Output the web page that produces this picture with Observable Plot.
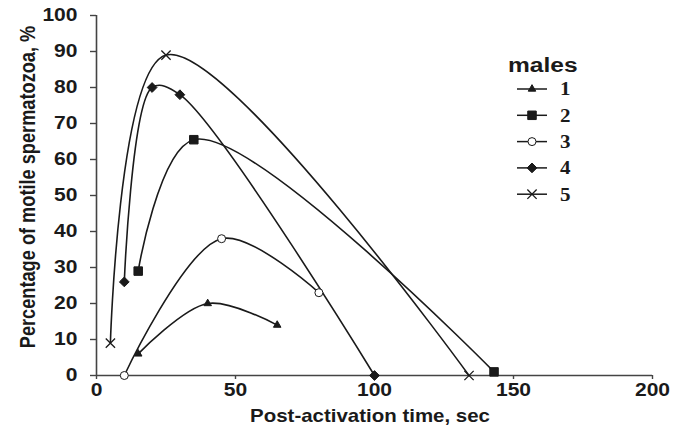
<!DOCTYPE html>
<html><head><meta charset="utf-8">
<script src="https://cdn.jsdelivr.net/npm/d3@7"></script>
<script src="https://cdn.jsdelivr.net/npm/@observablehq/plot@0.6"></script>
<style>body{margin:0;background:#fff}#chart{width:683px;height:436px}</style>
</head><body><div id="chart"></div>
<script>
// ---- data ----
const seriesNames = ["1", "2", "3", "4", "5"];
const times1 = [15, 40, 65];        const values1 = [6, 20, 14];
const times2 = [15, 35, 143];       const values2 = [29, 65.5, 1];
const times3 = [10, 45, 80];        const values3 = [0, 38, 23];
const times4 = [10, 20, 30, 100];   const values4 = [26, 80, 78, 0];
const times5 = [5, 25, 134];        const values5 = [9, 89, 0];
const xTicks = [0, 50, 100, 150, 200];
const yTicks = [0, 10, 20, 30, 40, 50, 60, 70, 80, 90, 100];
const xTitle = "Post-activation time, sec";
const yTitle = "Percentage of motile spermatozoa, %";
const legendTitle = "males";

// ---- styles ----
const symbolsBySeries = ["triangle", "square", "circle", "diamond2", "times"];
const radiusBySeries = [2.8, 4.8, 4, 4.4, 4.3];
const openBySeries = [false, false, true, false, false];
const ink = "#1a1a1a";
const STRETCH = 1.17;

const allTimes = [times1, times2, times3, times4, times5];
const allValues = [values1, values2, values3, values4, values5];
const data = seriesNames.flatMap((s, i) =>
  allTimes[i].map((t, j) => ({series: s, time: t, pct: allValues[i][j]})));

const dotMarks = seriesNames.map((s, i) =>
  Plot.dot(data.filter(d => d.series === s), {
    x: "time", y: "pct",
    symbol: symbolsBySeries[i], r: radiusBySeries[i],
    fill: symbolsBySeries[i] === "times" ? "none" : (openBySeries[i] ? "white" : ink),
    stroke: ink, strokeWidth: symbolsBySeries[i] === "times" ? 1.3 : 1
  }));

const svg = Plot.plot({
  width: 683, height: 436,
  marginLeft: 96, marginRight: 31, marginTop: 15, marginBottom: 61,
  x: {domain: [0, 200]},
  y: {domain: [0, 100]},
  style: {fontFamily: "'Liberation Sans', Arial, sans-serif", fontSize: "18px", fontWeight: "bold", color: ink, background: "white"},
  marks: [
    Plot.ruleY([0], {stroke: "#444", strokeWidth: 1.6}),
    Plot.ruleX([0], {stroke: "#444", strokeWidth: 1.6}),
    Plot.axisX({ticks: xTicks, tickSize: 4, tickPadding: 4, label: null, stroke: "#444", strokeWidth: 1.4}),
    Plot.axisY({ticks: yTicks, tickSize: 6, tickPadding: 13, label: null, stroke: "#444", strokeWidth: 1.4}),
    Plot.line(data, {x: "time", y: "pct", z: "series", curve: "catmull-rom", stroke: ink, strokeWidth: 1.6}),
    ...dotMarks
  ]
});
document.getElementById("chart").appendChild(svg);

const sel = d3.select(svg);
// axis titles
sel.append("text").attr("transform", "translate(370,416)")
  .attr("text-anchor", "middle").attr("dy", "0.35em").attr("font-size", 17.5).text(xTitle);
sel.append("text").attr("transform", "translate(28,187) rotate(-90)")
  .attr("text-anchor", "middle").attr("dy", "0.35em").attr("font-size", 18.2).text(yTitle);

// legend
const lg = sel.append("g").attr("text-anchor", "start");
lg.append("text").attr("transform", "translate(508,72)").attr("font-size", 21)
  .attr("text-anchor", "start").attr("font-weight", "bold").text(legendTitle);
seriesNames.forEach((s, i) => {
  const y = 89 + i * 26.3;
  lg.append("line").attr("x1", 517).attr("x2", 547).attr("y1", y).attr("y2", y)
    .attr("stroke", ink).attr("stroke-width", 1.5);
  const typeMap = {triangle: d3.symbolTriangle, square: d3.symbolSquare, circle: d3.symbolCircle, diamond2: d3.symbolDiamond2, times: d3.symbolTimes};
  const r = radiusBySeries[i];
  const isTimes = symbolsBySeries[i] === "times";
  lg.append("path").attr("transform", `translate(532,${y})`)
    .attr("d", d3.symbol(typeMap[symbolsBySeries[i]], Math.PI * r * r)())
    .attr("fill", isTimes ? "none" : (openBySeries[i] ? "white" : ink))
    .attr("stroke", ink).attr("stroke-width", isTimes ? 1.3 : 1);
  lg.append("text").attr("transform", `translate(560,${y})`).attr("dy", "0.36em")
    .attr("text-anchor", "start")
    .attr("font-family", "'Liberation Serif', 'Times New Roman', serif")
    .attr("font-size", 18).attr("font-weight", "bold").text(s);
});

// the reference's lettering is horizontally stretched
sel.selectAll("text").each(function() {
  const t = d3.select(this);
  let tr = t.attr("transform") || "";
  if (/rotate/.test(tr)) tr = tr.replace(/rotate/, `scale(${STRETCH},1) rotate`);
  else tr = tr + ` scale(${STRETCH},1)`;
  t.attr("transform", tr);
});
</script></body></html>
